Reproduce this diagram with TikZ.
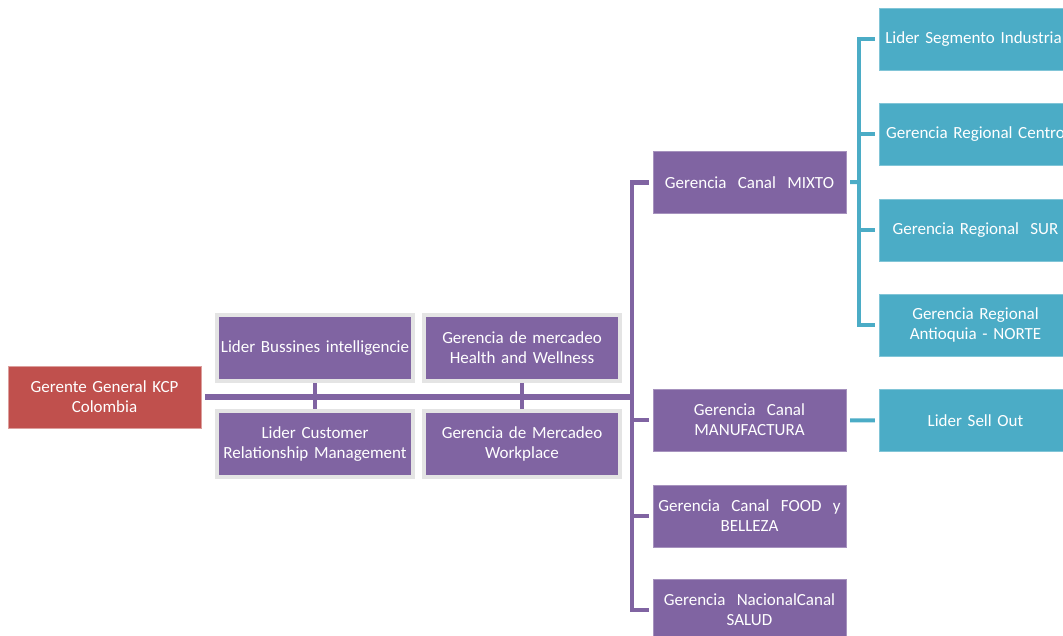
\documentclass[tikz,border=0pt]{standalone}
\usepackage{fontspec}
\setmainfont{Carlito}
\usetikzlibrary{positioning,calc,backgrounds}
\definecolor{kpurple}{HTML}{8064A2}
\definecolor{kred}{HTML}{C0504D}
\definecolor{kblue}{HTML}{4BACC6}
\definecolor{kframe}{HTML}{E4E4E4}
\tikzset{
  box/.style={
  rectangle,
  text=white,
  minimum width=193pt,
  minimum height=62pt,
  text width=190pt,
  inner sep=0pt,
  align=center,
  font=\fontsize{17}{20}\selectfont
  },
  boss/.style={box,fill=kred,draw=kred!55!white,thin},
  unit/.style={box,fill=kpurple,draw=kpurple!70!white,thin},
  region/.style={box,fill=kblue,draw=kblue!70!white,thin},
  assist/.style={box,fill=kpurple,draw=kframe,line width=4pt,
   minimum width=196pt,minimum height=66pt,text width=194pt},
  pline/.style={draw=kpurple,line width=4.5pt,line join=miter},
  bline/.style={draw=kblue,line width=4pt,line join=miter}
}
\begin{document}
\begin{tikzpicture}[x=1pt,y=-1pt,node distance=33pt]
  \useasboundingbox (0,0) rectangle (1063,636);
  \clip (0,0) rectangle (1063,636);

  \node [boss] (gg) at (104.5,397) {Gerente General KCP\\Colombia};

  \node [assist] (lbi) at (315,348) {Lider Bussines intelligencie};
  \node [assist] (lcrm) at (315,444) {Lider Customer\\Relationship Management};
  \node [assist] (mhw) at (522,348) {Gerencia de mercadeo\\Health and Wellness};
  \node [assist] (mwp) at (522,444) {Gerencia de Mercadeo\\Workplace};

  \node [unit] (mixto) at (749.5,182.5) {Gerencia\ \ Canal\ \ MIXTO};
  \node [unit] (manuf) at (749.5,420) {Gerencia\ \ Canal\\MANUFACTURA};
  \node [unit] (food) at (749.5,516) {Gerencia\ \ Canal\ \ FOOD\ \ y\\BELLEZA};
  \node [unit] (salud) at (749.5,610) {Gerencia\ \ NacionalCanal\\SALUD};

  \node [region] (seg) at (975.5,39) {Lider Segmento Industrial};
  \node [region,below=of seg] (centro) {Gerencia Regional Centro};
  \node [region,below=of centro] (sur) {Gerencia Regional\ \ SUR};
  \node [region,below=of sur] (ant) {Gerencia Regional\\Antioquia - NORTE};
  \node [region,below=of ant] (sell) {Lider Sell Out};

  \coordinate (bus) at (632,397);
  \coordinate (hub) at (859,182);

  \begin{scope}[on background layer]
  % main line and channel bus
  \draw [pline,line width=5.5pt,shorten <=4pt] (gg) -- (bus);
  \draw [pline] (lbi) -- (lcrm);
  \draw [pline] (mhw) -- (mwp);
  \draw [pline,shorten <=4pt,shorten >=4pt] (mixto.west) -| (bus) |- (salud.west);
  \draw [pline,shorten >=4pt] (bus|-manuf) -- (manuf);
  \draw [pline,shorten >=4pt] (bus|-food) -- (food);

  % regions under MIXTO
  \draw [bline,shorten <=4pt] (mixto) -- (hub);
  \draw [bline,shorten <=4pt,shorten >=4pt] (seg.west) -| (hub) |- (ant.west);
  \draw [bline,shorten >=4pt] (hub|-centro) -- (centro);
  \draw [bline,shorten >=4pt] (hub|-sur) -- (sur);
  \draw [bline,shorten <=4pt,shorten >=4pt] (manuf) -- (sell);
  \end{scope}
\end{tikzpicture}
\end{document}
